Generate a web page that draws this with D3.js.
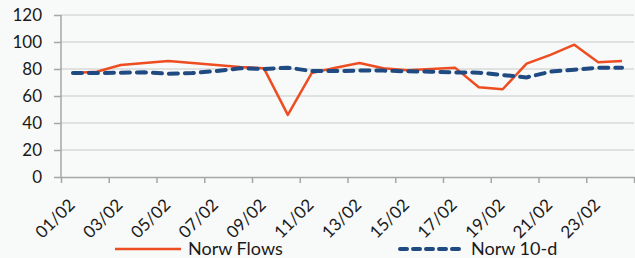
<!DOCTYPE html>
<html lang="en">
<head>
    <meta charset="UTF-8">
    <title>Norw Flows</title>
    <script src="https://d3js.org/d3.v7.min.js"></script>
    <style>
        body { margin: 0; background: #f8f9f9; }
        svg { display: block; font-family: Lato, "Open Sans", sans-serif; }
        .axis path, .axis line { stroke: #a6a6a6; stroke-width: 1.5px; }
        .axis text { fill: #1a1a1a; font-size: 17px; font-family: Lato, sans-serif; }
    </style>
</head>
<body>
    <div id="chart"></div>
    <script>
        // Daily values
        const dates = ["01/02","02/02","03/02","04/02","05/02","06/02","07/02","08/02",
                       "09/02","10/02","11/02","12/02","13/02","14/02","15/02","16/02",
                       "17/02","18/02","19/02","20/02","21/02","22/02","23/02","24/02"];
        const flows = [77, 78, 83, 84.5, 86, 84.5, 83, 81.5, 80.5, 46, 77, 81,
                       84.5, 80.5, 79, 80, 81, 66.5, 65, 84, 90.5, 98, 85, 86];
        const avg10 = [77, 77, 77.3, 77.5, 76.5, 77, 78.5, 80.5, 80, 81, 78.5, 78.5,
                       78.8, 78.8, 78.3, 78, 77.5, 77.3, 75.5, 73.8, 78, 79.5, 81, 81];
        const yTicks = [0, 20, 40, 60, 80, 100, 120];
        const seriesNames = ["Norw Flows", "Norw 10-d"];

        const W = 635, H = 258;
        const plotL = 61, plotR = 634, plotT = 15, plotB = 177;

        const svg = d3.select("#chart").append("svg")
            .attr("width", W).attr("height", H);

        const x = d3.scaleBand().domain(dates).range([plotL, plotR]).padding(0);
        const xEdge = d3.scaleLinear().domain([0, dates.length]).range([plotL, plotR]);
        const y = d3.scaleLinear().domain([0, 120]).range([plotB, plotT]);

        // gridlines
        svg.append("g").selectAll("line")
            .data(yTicks.filter(d => d > 0))
            .enter().append("line")
            .attr("x1", plotL).attr("x2", plotR)
            .attr("y1", d => y(d)).attr("y2", d => y(d))
            .attr("stroke", "#d9d9d9").attr("stroke-width", 1.5);

        // y axis
        const yAxis = svg.append("g").attr("class", "axis")
            .attr("transform", "translate(" + plotL + ",0)")
            .call(d3.axisLeft(y).tickValues(yTicks).tickSize(7).tickPadding(12));
        yAxis.select(".domain").attr("d", "M0," + plotT + "V" + plotB);

        // x axis: tick marks every 2 days between categories
        svg.append("g").attr("class", "axis")
            .attr("transform", "translate(0," + plotB + ")")
            .call(d3.axisBottom(xEdge).tickValues(d3.range(0, dates.length + 1, 2))
                .tickSize(6).tickSizeOuter(0).tickFormat(""));

        // rotated category labels
        svg.append("g").selectAll("text")
            .data(dates.filter((d, i) => i % 2 === 0))
            .enter().append("text")
            .attr("transform", d => "translate(" + (x(d) + x.bandwidth() / 2 + 3) + "," + (plotB + 29) + ") rotate(-45)")
            .attr("text-anchor", "end")
            .attr("font-size", 17)
            .attr("fill", "#1a1a1a")
            .text(d => d);

        const line = d3.line()
            .x((d, i) => x(dates[i]) + x.bandwidth() / 2)
            .y(d => y(d));

        svg.append("path").datum(flows)
            .attr("d", line)
            .attr("fill", "none")
            .attr("stroke", "#ee4d22")
            .attr("stroke-width", 2.5)
            .attr("stroke-linejoin", "round");

        svg.append("path").datum(avg10)
            .attr("d", line)
            .attr("fill", "none")
            .attr("stroke", "#1f4a82")
            .attr("stroke-width", 4)
            .attr("stroke-dasharray", "9,7")
            .attr("stroke-linecap", "round");

        // legend
        const legY = 249;
        const legend = svg.append("g");
        legend.append("line")
            .attr("x1", 115).attr("x2", 181).attr("y1", legY).attr("y2", legY)
            .attr("stroke", "#ee4d22").attr("stroke-width", 2.5);
        legend.append("text")
            .attr("x", 188).attr("y", legY).attr("dy", "0.35em")
            .attr("font-size", 18).attr("fill", "#1a1a1a")
            .text(seriesNames[0]);
        legend.append("line")
            .attr("x1", 400).attr("x2", 460).attr("y1", legY).attr("y2", legY)
            .attr("stroke", "#1f4a82").attr("stroke-width", 4)
            .attr("stroke-dasharray", "7,6").attr("stroke-linecap", "round");
        legend.append("text")
            .attr("x", 471).attr("y", legY).attr("dy", "0.35em")
            .attr("font-size", 18).attr("fill", "#1a1a1a")
            .text(seriesNames[1]);
    </script>
</body>
</html>
